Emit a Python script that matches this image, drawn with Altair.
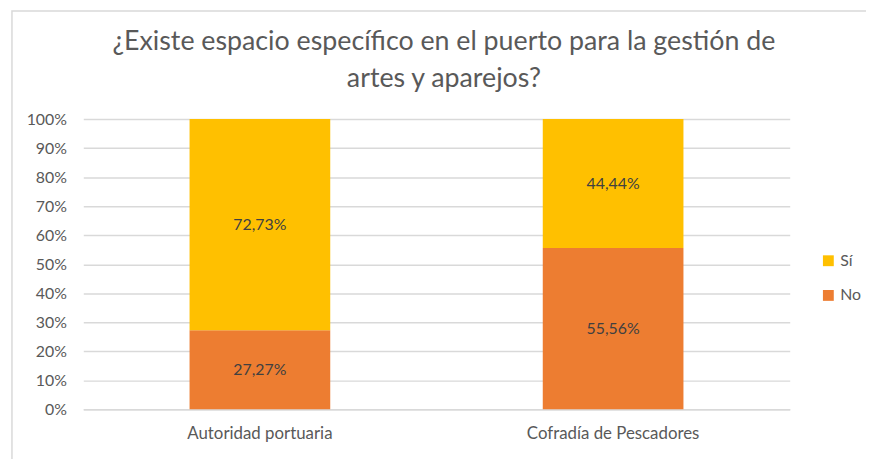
import altair as alt
import pandas as pd

categories = ["Autoridad portuaria", "Cofradía de Pescadores"]
no_values = [27.27, 55.56]
si_values = [72.73, 44.44]
series = ["Sí", "No"]
colors = ["#FFC000", "#ED7D31"]
title_lines = ["¿Existe espacio específico en el puerto para la gestión de", "artes y aparejos?"]

rows = []
for c, n, s in zip(categories, no_values, si_values):
    rows.append({"cat": c, "serie": "No", "val": n / 100, "start": 0.0, "end": n / 100})
    rows.append({"cat": c, "serie": "Sí", "val": s / 100, "start": n / 100, "end": (n + s) / 100})
df = pd.DataFrame(rows)
df["label"] = df["val"].map(lambda v: f"{v*100:.2f}%".replace(".", ","))
df["mid"] = (df["start"] + df["end"]) / 2

FONT = "Lato"
GRAY = "#595959"

x_axis = alt.Axis(labelAngle=0, labelFontSize=17, labelColor=GRAY, labelFont=FONT,
                  labelPadding=16, ticks=False, domainColor="#d9d9d9", domainWidth=1.5)
y_axis = alt.Axis(format=".0%", values=[i / 10 for i in range(11)], labelFontSize=16,
                  labelColor=GRAY, labelFont=FONT, labelPadding=17, ticks=False,
                  domain=False, gridColor="#d9d9d9", gridWidth=1.5)
x_scale = alt.Scale(paddingInner=0.6, paddingOuter=0.3)
y_scale = alt.Scale(domain=[0, 1], nice=False)

base = alt.Chart(df)

bars = base.mark_bar(size=142).encode(
    x=alt.X("cat:N", sort=categories, title=None, scale=x_scale, axis=x_axis),
    y=alt.Y("start:Q", title=None, scale=y_scale, axis=y_axis),
    y2="end:Q",
    color=alt.Color("serie:N", scale=alt.Scale(domain=series, range=colors), title=None,
                    legend=alt.Legend(orient="none", legendX=744, legendY=135, symbolType="square",
                                      symbolSize=120, labelFontSize=16, labelColor=GRAY,
                                      labelFont=FONT, rowPadding=19, symbolStrokeWidth=0)),
)

texts = base.mark_text(fontSize=16, color="#404040", font=FONT).encode(
    x=alt.X("cat:N", sort=categories, title=None, scale=x_scale, axis=x_axis),
    y=alt.Y("mid:Q", title=None, scale=y_scale, axis=y_axis),
    text="label:N",
)

title = alt.Chart(pd.DataFrame({"t": [title_lines]})).mark_text(
    fontSize=27, font=FONT, color=GRAY, lineHeight=38, baseline="top", align="center"
).encode(x=alt.value(364), y=alt.value(-91), text="t")

border = alt.Chart(pd.DataFrame({"a": [0]})).mark_rect(
    fill=None, stroke="#d9d9d9", strokeWidth=1.5, clip=False
).encode(x=alt.value(-72), x2=alt.value(800), y=alt.value(-109), y2=alt.value(360))

chart = alt.layer(border, bars, texts, title).properties(
    width=713, height=293,
    autosize="none",
    padding={"left": 76, "top": 110, "right": 77, "bottom": 48},
).configure_view(stroke=None)

chart.save("out.html", embed_options={"renderer": "svg", "actions": False})
